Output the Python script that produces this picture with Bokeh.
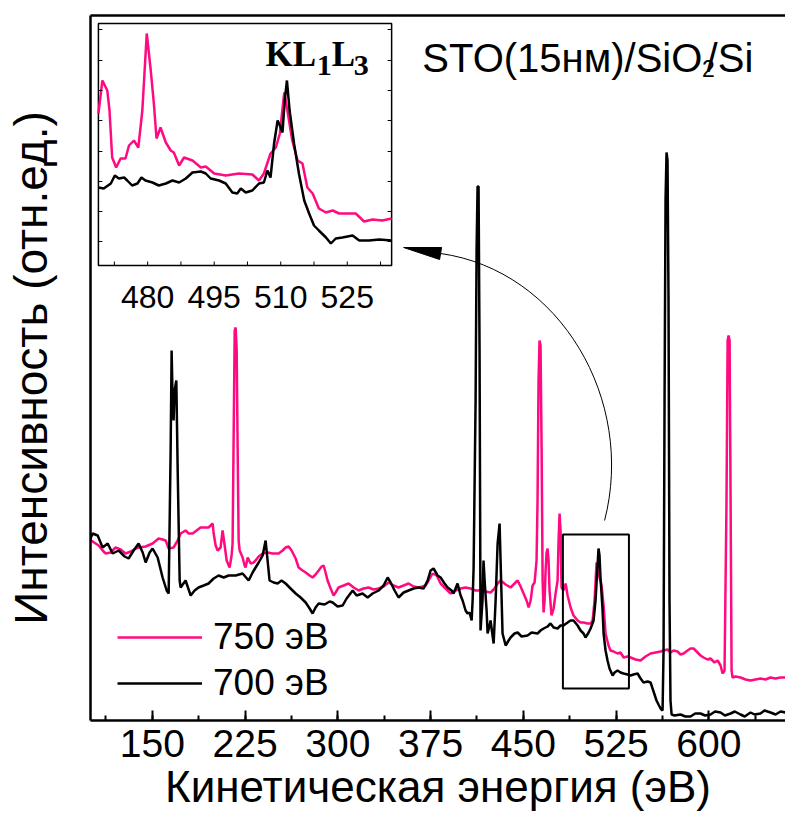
from bokeh.plotting import figure
from bokeh.models import (Range1d, LinearAxis, SingleIntervalTicker, FixedTicker,
                          Legend, LegendItem, Label)
from bokeh.core.properties import value
from bokeh.embed import file_html
from bokeh.resources import INLINE

# ---------------- data ----------------
energy_700 = [100.0, 101.7, 105.8, 109.8, 113.9, 117.9, 122.8, 127.6, 130.8, 134.9, 138.9, 142.2, 144.6,
              147.8, 150.2, 154.3, 158.3, 161.6, 163.2, 164.8, 165.6, 166.4, 167.2, 168.0, 169.4, 170.5,
              172.1, 172.9, 176.9, 181.0, 184.2, 187.4, 191.5, 195.5, 199.6, 203.6, 207.7, 211.7, 217.4,
              223.0, 227.9, 231.1, 233.5, 236.0, 239.2, 241.6, 243.2, 244.8, 248.1, 251.3, 254.5, 257.8,
              261.8, 265.9, 269.9, 274.0, 277.2, 279.6, 282.0, 284.5, 289.3, 293.4, 295.8, 299.8, 303.9,
              307.1, 312.0, 315.2, 320.0, 324.1, 328.1, 333.0, 337.0, 340.3, 342.7, 345.9, 349.1, 353.2,
              357.2, 361.3, 365.3, 369.4, 372.6, 375.0, 377.4, 380.7, 383.1, 386.3, 388.8, 392.0, 393.6,
              396.8, 399.3, 400.9, 403.3, 404.9, 406.5, 408.2, 409.0, 409.8, 411.4, 412.2, 413.0, 413.8,
              414.6, 415.4, 417.0, 417.8, 418.7, 420.3, 421.1, 422.7, 423.5, 425.1, 426.0, 427.6, 429.2,
              430.8, 431.6, 433.2, 435.7, 438.1, 439.7, 442.9, 445.4, 448.6, 453.4, 456.7, 461.5, 463.9,
              466.4, 469.6, 472.0, 474.5, 477.7, 480.1, 482.5, 485.8, 488.2, 490.6, 493.9, 496.3, 498.7,
              500.3, 502.8, 504.4, 506.8, 508.4, 510.0, 510.8, 511.6, 512.4, 514.1, 514.9, 516.5, 518.1,
              519.7, 522.2, 523.8, 526.2, 528.6, 531.1, 534.3, 536.7, 539.1, 542.4, 544.8, 547.2, 550.5,
              552.9, 554.5, 556.1, 557.7, 559.3, 561.0, 562.6, 563.4, 564.2, 565.0, 565.8, 566.6, 567.4,
              568.2, 569.0, 569.9, 572.3, 577.1, 581.0, 585.2, 589.0, 593.3, 597.0, 601.4, 605.0, 609.5,
              613.0, 617.6, 621.0, 625.6, 629.0, 633.7, 637.0, 641.8, 645.0, 649.9, 654.0, 658.0, 662.0]
intensity_700 = [18.2, 18.7, 18.5, 17.3, 17.7, 16.7, 17.0, 16.4, 16.2, 17.0, 17.7, 16.8, 15.8,
                 16.8, 17.2, 16.3, 14.3, 13.0, 12.7, 27.0, 37.0, 32.0, 30.0, 33.0, 34.0, 25.0,
                 14.0, 13.3, 14.0, 12.5, 13.0, 13.3, 13.5, 13.7, 14.2, 14.5, 14.3, 14.5, 14.5,
                 14.7, 14.0, 14.8, 15.3, 15.8, 16.5, 18.0, 16.0, 14.0, 13.8, 13.7, 14.0, 13.7,
                 13.2, 12.7, 12.3, 11.8, 11.2, 10.7, 11.3, 11.7, 11.6, 11.9, 11.8, 11.4, 11.5,
                 12.2, 13.0, 12.5, 12.7, 12.3, 12.7, 13.0, 13.5, 14.3, 13.8, 13.0, 12.3, 12.8,
                 13.0, 13.2, 13.3, 13.2, 14.0, 15.0, 15.2, 14.5, 14.3, 13.7, 13.3, 13.0, 12.7,
                 13.7, 12.5, 12.0, 11.0, 10.7, 10.8, 10.0, 12.0, 15.3, 32.0, 47.0, 53.4, 53.4,
                 37.0, 9.0, 12.0, 16.0, 14.0, 11.0, 8.7, 9.5, 10.0, 8.5, 7.7, 12.0, 17.7,
                 19.7, 16.0, 8.7, 7.5, 8.0, 8.3, 8.7, 8.8, 8.4, 8.5, 8.8, 8.7, 9.0,
                 9.2, 9.4, 9.7, 9.3, 9.2, 9.5, 9.5, 9.8, 10.0, 10.0, 9.5, 9.0, 8.7,
                 8.3, 8.8, 9.2, 10.0, 12.0, 15.5, 17.2, 16.5, 14.3, 11.0, 8.7, 7.0, 6.0,
                 5.2, 4.5, 4.8, 5.0, 4.8, 4.7, 4.6, 4.5, 4.6, 4.7, 4.2, 3.8, 3.9,
                 3.8, 3.2, 2.6, 2.0, 1.6, 1.2, 1.0, 7.0, 32.0, 52.0, 56.8, 56.0, 42.0,
                 12.0, 2.0, 0.6, 0.5, 0.6, 0.4, 0.4, 0.7, 0.7, 0.5, 0.6, 0.9, 0.8,
                 0.5, 0.7, 0.9, 0.6, 0.4, 0.8, 0.6, 0.7, 1.0, 0.8, 0.6, 0.9, 0.8]

energy_750 = [100.0, 101.7, 106.6, 109.8, 112.3, 116.3, 120.3, 124.4, 128.4, 132.5, 136.5, 138.9, 144.6,
              150.2, 155.1, 158.3, 160.8, 163.2, 167.2, 170.5, 172.9, 176.9, 179.4, 182.6, 185.8, 189.0,
              193.1, 195.5, 198.8, 199.6, 201.2, 202.8, 204.4, 205.2, 206.8, 208.5, 210.1, 212.5, 214.1,
              214.9, 216.6, 217.4, 218.2, 219.0, 219.8, 220.6, 223.0, 224.6, 225.4, 227.1, 229.5, 231.9,
              233.5, 236.0, 239.2, 243.2, 247.3, 252.1, 255.4, 257.8, 260.2, 262.6, 265.9, 268.3, 271.5,
              274.0, 277.2, 279.6, 282.0, 284.5, 286.9, 288.5, 290.1, 291.7, 294.2, 296.6, 298.2, 300.6,
              304.7, 308.7, 312.8, 316.8, 320.8, 324.9, 328.9, 333.0, 337.0, 341.1, 345.1, 349.1, 353.2,
              357.2, 361.3, 365.3, 368.5, 371.0, 373.4, 376.6, 379.9, 383.1, 387.1, 391.2, 395.2, 399.3,
              403.3, 407.3, 411.4, 415.4, 419.5, 423.5, 426.8, 429.2, 431.6, 435.7, 439.7, 442.1, 445.4,
              447.8, 450.2, 452.6, 454.3, 455.9, 457.5, 459.1, 460.7, 461.5, 462.3, 463.1, 463.9, 464.8,
              465.6, 466.4, 467.2, 468.0, 468.8, 469.6, 470.4, 471.2, 472.8, 474.5, 476.1, 477.7, 478.5,
              479.3, 480.1, 480.9, 482.5, 484.2, 485.8, 488.2, 490.6, 493.9, 496.3, 498.7, 501.9, 504.4,
              506.0, 507.6, 509.2, 510.0, 511.6, 513.3, 514.9, 516.5, 518.9, 520.5, 523.0, 526.2, 528.6,
              531.1, 534.3, 536.7, 540.8, 544.8, 548.8, 552.9, 556.9, 561.0, 563.4, 566.6, 569.0, 571.5,
              574.7, 577.1, 579.6, 582.8, 585.2, 587.7, 590.9, 593.3, 595.7, 598.9, 601.4, 604.6, 607.1,
              609.5, 611.1, 612.7, 614.3, 615.2, 616.0, 616.8, 617.6, 618.4, 619.2, 621.6, 625.6, 629.7,
              633.7, 637.7, 641.8, 645.8, 649.9, 653.9, 658.0, 662.0]
intensity_750 = [18.0, 17.9, 17.5, 17.0, 16.7, 16.8, 17.3, 17.1, 16.7, 16.9, 17.2, 17.3, 17.4,
                 17.7, 18.2, 18.1, 18.0, 17.2, 17.3, 18.0, 18.7, 19.0, 18.7, 18.7, 19.0, 19.3,
                 19.3, 19.3, 19.7, 18.7, 17.5, 17.0, 17.2, 17.3, 19.0, 17.5, 16.0, 15.3, 16.5,
                 17.7, 39.0, 39.3, 37.0, 27.0, 18.0, 17.0, 16.3, 15.5, 15.3, 16.3, 15.7, 15.8,
                 16.0, 16.4, 16.7, 16.8, 16.7, 16.7, 17.0, 17.3, 17.4, 17.0, 16.2, 15.3, 15.0,
                 14.8, 14.5, 14.3, 14.6, 15.0, 15.4, 15.5, 14.8, 14.0, 13.2, 12.5, 12.8, 13.3,
                 13.5, 13.7, 13.3, 13.0, 13.2, 13.3, 13.1, 13.2, 13.4, 13.8, 13.5, 13.3, 13.5,
                 13.7, 13.4, 13.3, 13.4, 13.5, 14.0, 14.7, 14.5, 13.7, 13.2, 12.7, 13.0, 13.2,
                 13.3, 13.2, 13.0, 13.0, 12.9, 12.8, 13.2, 13.7, 14.0, 13.6, 13.3, 13.6, 14.0,
                 13.4, 12.7, 12.0, 11.3, 12.0, 13.5, 13.8, 16.0, 22.0, 34.0, 38.0, 37.5, 27.0,
                 14.0, 10.8, 12.0, 15.0, 16.8, 17.2, 16.0, 13.0, 10.5, 11.2, 12.7, 14.0, 18.0,
                 20.7, 19.0, 13.3, 13.0, 13.7, 12.5, 11.3, 10.5, 10.0, 9.8, 9.8, 9.7, 9.7,
                 10.0, 12.0, 15.8, 15.5, 14.3, 13.5, 11.5, 8.7, 7.5, 7.0, 6.9, 6.7, 6.8,
                 6.3, 6.4, 6.3, 6.1, 6.0, 6.4, 6.7, 6.8, 6.9, 7.0, 7.1, 6.8, 7.0,
                 6.9, 6.6, 6.7, 7.0, 7.2, 7.2, 6.8, 6.5, 6.3, 6.1, 6.2, 5.8, 6.0,
                 5.5, 4.7, 5.0, 22.0, 38.0, 38.5, 38.0, 22.0, 5.0, 4.3, 4.4, 4.3, 4.1,
                 4.0, 4.1, 4.2, 4.1, 4.3, 4.2, 4.3, 4.3]

inset_energy_750 = [468.9, 469.8, 470.9, 471.4, 472.0, 472.9, 473.9, 475.0, 475.8, 476.9, 477.9, 478.8,
                    479.8, 480.7, 481.4, 482.0, 482.9, 484.1, 485.2, 485.9, 487.1, 488.2, 490.1, 492.0,
                    493.1, 495.0, 497.6, 500.6, 503.6, 505.1, 506.2, 507.7, 508.9, 509.8, 510.8, 511.5,
                    512.6, 513.8, 514.9, 516.0, 517.2, 518.6, 520.2, 521.7, 523.2, 525.4, 526.9, 528.8,
                    530.7, 532.9, 535.0]
inset_int_750 = [15.2, 18.5, 17.5, 15.5, 10.8, 9.8, 10.7, 10.7, 12.0, 12.5, 11.8, 15.5,
                 23.2, 19.5, 16.2, 12.7, 13.8, 12.3, 11.5, 11.3, 10.0, 10.8, 10.5, 9.8,
                 9.9, 9.2, 9.0, 9.2, 9.1, 8.5, 9.2, 11.2, 11.8, 13.2, 17.3, 15.5,
                 12.5, 10.5, 10.2, 7.8, 7.2, 5.7, 5.3, 5.5, 5.2, 5.2, 5.2, 4.4,
                 4.6, 4.5, 4.7]
inset_energy_700 = [468.9, 470.1, 471.7, 472.6, 473.5, 474.7, 475.4, 476.5, 477.7, 478.6, 479.5, 481.1,
                    482.5, 484.1, 485.6, 487.1, 488.6, 490.1, 492.0, 493.1, 494.2, 496.1, 497.6, 499.1,
                    500.2, 501.0, 502.1, 503.6, 505.1, 506.2, 507.0, 507.7, 508.5, 509.3, 509.8, 510.4,
                    510.9, 511.4, 512.0, 513.0, 514.1, 515.3, 516.4, 517.5, 518.6, 520.2, 521.3, 522.4,
                    523.9, 526.2, 527.7, 529.9, 532.2, 535.0]
inset_int_700 = [7.8, 7.7, 8.2, 9.0, 8.7, 8.8, 8.5, 8.0, 8.2, 8.8, 8.5, 8.3,
                 8.0, 8.2, 8.5, 8.3, 8.7, 9.3, 9.4, 9.2, 8.7, 8.5, 8.2, 7.3,
                 7.2, 7.7, 7.3, 7.5, 8.2, 8.3, 9.5, 8.8, 12.2, 14.5, 14.0, 13.3,
                 16.5, 18.5, 15.5, 12.2, 9.2, 6.5, 5.2, 4.0, 3.5, 2.8, 2.2, 2.7,
                 2.8, 3.0, 2.5, 2.5, 2.6, 2.5]

x_tick_interval = 75
inset_tick_labels = [480, 495, 510, 525]
inset_x_ticks = [472.5, 480, 487.5, 495, 502.5, 510, 517.5, 525, 532.5]
inset_y_ticks = [2.4, 5.4, 8.4, 11.4, 14.5, 17.5, 20.5, 23.6]

PINK = "#ff0a80"
FONT = "Liberation Sans"

# ---------------- figure ----------------
p = figure(width=785, height=824, x_range=Range1d(100, 662), y_range=Range1d(0, 70.5),
           output_backend="svg", toolbar_location=None,
           min_border_left=90, min_border_right=0, min_border_top=15, min_border_bottom=104)
p.outline_line_color = None
p.grid.visible = False
p.background_fill_color = "white"
p.border_fill_color = "white"

xa = p.xaxis[0]
xa.ticker = SingleIntervalTicker(interval=x_tick_interval, num_minor_ticks=2)
xa.major_tick_in = 10
xa.major_tick_out = 0
xa.minor_tick_in = 5
xa.minor_tick_out = 0
xa.axis_line_width = 2.5
xa.major_tick_line_width = 2
xa.minor_tick_line_width = 2
xa.major_label_text_font = FONT
xa.major_label_text_font_size = "39px"
xa.major_label_text_color = "black"
xa.major_label_standoff = 9
xa.axis_label = "Кинетическая энергия (эВ)"
xa.axis_label_text_font = FONT
xa.axis_label_text_font_size = "44px"
xa.axis_label_text_font_style = "normal"
xa.axis_label_text_color = "black"
xa.axis_label_standoff = 2

ya = p.yaxis[0]
ya.ticker = FixedTicker(ticks=[])
ya.axis_line_width = 2.5
ya.major_tick_line_color = None
ya.minor_tick_line_color = None
ya.major_label_standoff = 0
ya.axis_label = "Интенсивность (отн.ед.)"
ya.axis_label_text_font = FONT
ya.axis_label_text_font_size = "46px"
ya.axis_label_text_font_style = "normal"
ya.axis_label_text_color = "black"
ya.axis_label_standoff = 34

top_axis = LinearAxis(ticker=FixedTicker(ticks=[]), axis_line_width=2.5,
                      major_tick_line_color=None, minor_tick_line_color=None)
p.add_layout(top_axis, "above")

# main curves
r750 = p.line(energy_750, intensity_750, line_color=PINK, line_width=2.5)
r700 = p.line(energy_700, intensity_700, line_color="black", line_width=2.5)

# box around KL1L3 peak
p.quad(left=[482.0], right=[535.4], bottom=[3.2], top=[18.6],
       fill_color=None, line_color="black", line_width=2)

# curved arrow to the inset
p.bezier(x0=[515.7], y0=[20.0], x1=[383.1], y1=[46.7],
         cx0=[540.8], cy0=[32.0], cx1=[480.1], cy1=[45.0],
         line_color="black", line_width=1)
p.patch(x=[353.2, 383.9, 382.3], y=[47.3, 47.3, 46.1], fill_color="black", line_color="black")

# ---------------- inset ----------------
ins = p.subplot(x_source=Range1d(468.9, 535.0), y_source=Range1d(0, 24.2),
                x_target=Range1d(106.4, 343.5), y_target=Range1d(45.5, 69.7))
ins.quad(left=[468.9], right=[535.0], bottom=[0], top=[24.2],
         fill_color="white", line_color="black", line_width=1.5)
ins.line(inset_energy_750, inset_int_750, line_color=PINK, line_width=2.5)
ins.line(inset_energy_700, inset_int_700, line_color="black", line_width=2.5)
ins.segment(x0=inset_x_ticks, y0=[0] * len(inset_x_ticks), x1=inset_x_ticks,
            y1=[0.4] * len(inset_x_ticks), line_color="black", line_width=1)
ins.segment(x0=[468.9] * len(inset_y_ticks), y0=inset_y_ticks, x1=[469.8] * len(inset_y_ticks),
            y1=inset_y_ticks, line_color="black", line_width=1)
ins.segment(x0=[535.0] * len(inset_y_ticks), y0=inset_y_ticks, x1=[534.1] * len(inset_y_ticks),
            y1=inset_y_ticks, line_color="black", line_width=1)
ins.text(x=inset_tick_labels, y=[-3.15] * len(inset_tick_labels),
         text=[str(v) for v in inset_tick_labels], text_align="center", text_baseline="middle",
         text_font=value(FONT), text_font_size="32px", text_color="black")

# ---------------- texts ----------------
def lab(x, y, t, size, font=FONT, style="normal"):
    p.add_layout(Label(x=x, y=y, text=t, text_font=font, text_font_size=size,
                       text_font_style=style, text_baseline="alphabetic", text_align="left",
                       text_color="black"))

lab(241.6, 66.6, "KL", "35px", "Liberation Serif", "bold")
lab(283.0, 65.5, "1", "30px", "Liberation Serif", "bold")
lab(295.0, 66.6, "L", "35px", "Liberation Serif", "bold")
lab(312.8, 65.5, "3", "30px", "Liberation Serif", "bold")

lab(368.3, 66.3, "STO(15нм)/SiO", "40px")
lab(594.5, 65.2, "2", "23px")
lab(598.2, 66.3, "/Si", "40px")

legend = Legend(items=[LegendItem(label="750 эВ", renderers=[r750]),
                       LegendItem(label="700 эВ", renderers=[r700])],
                location=(27, 16), glyph_width=85, glyph_height=40, label_height=40,
                label_standoff=11, spacing=4, padding=0, margin=0,
                border_line_color=None, background_fill_alpha=0,
                label_text_font=FONT, label_text_font_size="37px", label_text_color="black")
p.add_layout(legend)

open("out.html", "w").write(file_html(p, INLINE))
